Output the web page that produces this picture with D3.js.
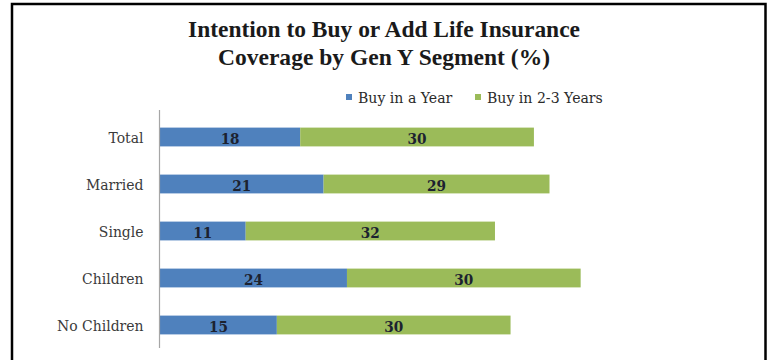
<!DOCTYPE html>
<html>
<head>
<meta charset="utf-8">
<script src="https://cdn.jsdelivr.net/npm/d3@7"></script>
<style>
  html, body { margin: 0; padding: 0; background: #ffffff; }
  svg { display: block; }
</style>
</head>
<body>
<svg id="chart" width="771" height="360"></svg>
<script>
const titleLines = ["Intention to Buy or Add Life Insurance", "Coverage by Gen Y Segment (%)"];
const categories = ["Total", "Married", "Single", "Children", "No Children"];
const seriesNames = ["Buy in a Year", "Buy in 2-3 Years"];
const buyInYear = [18, 21, 11, 24, 15];
const buyIn23Years = [30, 29, 32, 30, 30];
const seriesColors = ["#4f81bd", "#9bbb59"];

const svg = d3.select("#chart");
const labelFont = "'DejaVu Serif', serif";
const squeeze = 0.9;
const legSqueeze = 0.91;

// frame
svg.append("path")
  .attr("d", "M12,361 L12,4 L765.5,4 L765.5,361")
  .attr("fill", "none").attr("stroke", "#000").attr("stroke-width", 2.5);

// title
const titleG = svg.append("g");
titleLines.forEach((t, i) => {
  const tx = titleG.append("text")
    .attr("x", 384).attr("y", 37 + i * 27.5)
    .attr("text-anchor", "middle")
    .attr("font-family", "'Liberation Serif', 'Times New Roman', serif")
    .attr("font-weight", "bold").attr("font-size", 22.5)
    .attr("fill", "#1a1a1a")
    .text(t);
  const target = i === 0 ? 392 : 332;
  tx.attr("textLength", target).attr("lengthAdjust", "spacingAndGlyphs");
});

// scales
const x = d3.scaleLinear().domain([0, 60]).range([160, 160 + 7.79 * 60]);
const y = d3.scaleBand().domain(categories).range([113.5, 348.5]).paddingInner(0.6).paddingOuter(0.3);

const stacked = categories.map((c, i) => ({
  cat: c,
  segs: [
    { s: 0, x0: 0, x1: buyInYear[i], v: buyInYear[i] },
    { s: 1, x0: buyInYear[i], x1: buyInYear[i] + buyIn23Years[i], v: buyIn23Years[i] }
  ]
}));

// bars
const rows = svg.append("g").selectAll("g").data(stacked).join("g");
rows.selectAll("rect").data(d => d.segs.map(s => ({ ...s, cat: d.cat }))).join("rect")
  .attr("x", d => x(d.x0))
  .attr("width", d => x(d.x1) - x(d.x0))
  .attr("y", d => y(d.cat))
  .attr("height", y.bandwidth())
  .attr("fill", d => seriesColors[d.s]);

const valSqueeze = 0.88;
rows.selectAll("text").data(d => d.segs.map(s => ({ ...s, cat: d.cat }))).join("text")
  .attr("transform", d => `translate(${(x(d.x0) + x(d.x1)) / 2},${y(d.cat) + y.bandwidth() / 2 + 1.5}) scale(${valSqueeze},1)`)
  .attr("dy", "0.35em")
  .attr("text-anchor", "middle")
  .attr("font-family", labelFont)
  .attr("font-weight", "bold").attr("font-size", 15.5)
  .attr("fill", "#1c2230")
  .text(d => d.v);

// axis (vertical category axis line, no ticks)
const yAxis = d3.axisLeft(y).tickSize(0).tickPadding(0);
const ax = svg.append("g").attr("transform", "translate(159.5,0)").call(yAxis);
ax.select(".domain").attr("d", "M0,110V348").attr("stroke", "#a6a6a6").attr("stroke-width", 1.2);
ax.selectAll(".tick text")
  .attr("x", null)
  .attr("transform", `translate(-16,1) scale(${squeeze},1)`)
  .attr("font-family", labelFont)
  .attr("font-size", 15.5)
  .attr("fill", "#3a3a3a");

// legend
const legendX = [346, 475];
const leg = svg.append("g").selectAll("g").data(seriesNames).join("g")
  .attr("transform", (d, i) => `translate(${legendX[i]},94)`);
leg.append("rect").attr("width", 6).attr("height", 6).attr("y", 0)
  .attr("fill", (d, i) => seriesColors[i]);
leg.append("text")
  .attr("transform", `translate(12,4) scale(${legSqueeze},1)`)
  .attr("dy", "0.35em")
  .attr("font-family", labelFont).attr("font-size", 15.5).attr("fill", "#2a2a2a")
  .text(d => d);
</script>
</body>
</html>
